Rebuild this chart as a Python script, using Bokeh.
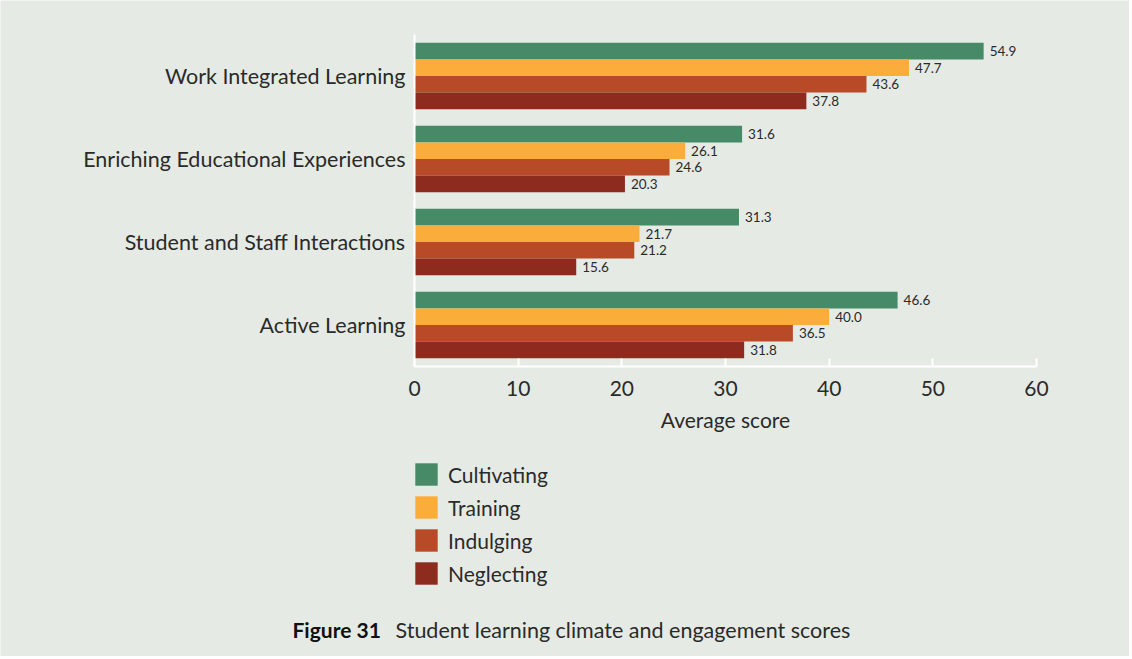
from bokeh.plotting import figure
from bokeh.models import (Range1d, Legend, LegendItem, Label, ColumnDataSource, LabelSet,
                          LinearAxis, FixedTicker)
from bokeh.transform import dodge
from bokeh.core.properties import value
from bokeh.embed import file_html
from bokeh.resources import INLINE

categories = ["Active Learning", "Student and Staff Interactions",
              "Enriching Educational Experiences", "Work Integrated Learning"]
series = ["Cultivating", "Training", "Indulging", "Neglecting"]
cultivating = [46.6, 31.3, 31.6, 54.9]
training = [40.0, 21.7, 26.1, 47.7]
indulging = [36.5, 21.2, 24.6, 43.6]
neglecting = [31.8, 15.6, 20.3, 37.8]
values = [cultivating, training, indulging, neglecting]
colors = ["#468a68", "#fbad3c", "#b94a27", "#8c2b1e"]
offsets = [0.3, 0.1, -0.1, -0.3]
x_ticks = [0, 10, 20, 30, 40, 50, 60]
x_max = 60

FONT = "Lato"
BG = "#e5eae4"
TXT = "#2a2a2a"

W, H = 1129, 656
# plot area placement inside the canvas (pixels)
L, R, T, B = 414, 1036, 34, 366
ncat = len(categories)
px_x = (R - L) / x_max
px_y = (B - T) / ncat

p = figure(width=W, height=H,
           x_range=Range1d(-L / px_x, (W - L) / px_x),
           y_range=Range1d(-(H - B) / px_y, B / px_y),
           x_axis_type=None, y_axis_type=None,
           output_backend="svg", toolbar_location=None,
           background_fill_color=BG, border_fill_color=BG,
           min_border_left=0, min_border_right=0, min_border_top=0, min_border_bottom=0)
p.outline_line_color = None
p.grid.visible = False

ypos = [i + 0.5 for i in range(ncat)]
renderers = []
for name, vals, col, off in zip(series, values, colors, offsets):
    src = ColumnDataSource(dict(y=ypos, v=vals, lab=["%.1f" % v for v in vals]))
    r = p.hbar(y=dodge("y", off), right="v", left=0, height=0.2,
               source=src, fill_color=col, line_color=None)
    renderers.append(r)
    ls = LabelSet(x="v", y=dodge("y", off), text="lab", source=src,
                  x_offset=6, text_baseline="middle", text_align="left",
                  text_font=value(FONT), text_font_size="13.5px", text_color=TXT)
    p.add_layout(ls)

# x axis
xa = LinearAxis(fixed_location=0, bounds=(0, x_max), ticker=FixedTicker(ticks=x_ticks))
xa.axis_line_color = "white"
xa.axis_line_width = 2
xa.major_tick_line_color = "white"
xa.major_tick_line_width = 2
xa.major_tick_in = 8
xa.major_tick_out = 0
xa.minor_tick_line_color = None
xa.major_label_text_font = FONT
xa.major_label_text_font_size = "21px"
xa.major_label_text_color = TXT
xa.major_label_standoff = 14
xa.axis_label = "Average score"
xa.axis_label_text_font = FONT
xa.axis_label_text_font_size = "21px"
xa.axis_label_text_font_style = "normal"
xa.axis_label_text_color = TXT
xa.axis_label_standoff = 8
p.add_layout(xa, "below")

# y axis
ya = LinearAxis(fixed_location=0, bounds=(0, ncat), ticker=FixedTicker(ticks=ypos),
                major_label_overrides={y: c for y, c in zip(ypos, categories)})
ya.axis_line_color = "white"
ya.axis_line_width = 2
ya.major_tick_line_color = None
ya.minor_tick_line_color = None
ya.major_label_text_font = FONT
ya.major_label_text_font_size = "21.5px"
ya.major_label_text_color = TXT
ya.major_label_standoff = 3
p.add_layout(ya, "left")

items = [LegendItem(label=n, renderers=[r]) for n, r in zip(series, renderers)]
legend = Legend(items=items, location=(412, 69), orientation="vertical",
                glyph_width=28, glyph_height=28, spacing=5, label_standoff=8,
                label_text_font=FONT, label_text_font_size="21px", label_text_color=TXT,
                label_height=22, padding=0, margin=0,
                background_fill_alpha=0, border_line_color=None)
p.add_layout(legend, "center")

cap1 = Label(x=292, y=27, x_units="screen", y_units="screen", text="Figure 31",
             text_font=FONT, text_font_size="21px", text_font_style="bold",
             text_color="#111111", text_baseline="middle")
cap2 = Label(x=395, y=27, x_units="screen", y_units="screen",
             text="Student learning climate and engagement scores",
             text_font=FONT, text_font_size="21.5px", text_color=TXT, text_baseline="middle")
p.add_layout(cap1)
p.add_layout(cap2)

open("out.html", "w").write(file_html(p, INLINE))
